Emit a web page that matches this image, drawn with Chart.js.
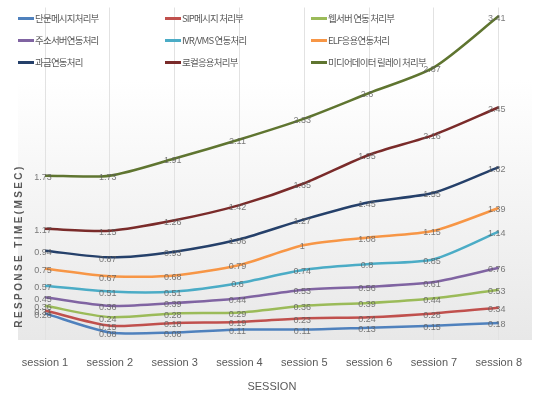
<!DOCTYPE html>
<html>
<head>
<meta charset="utf-8">
<script src="https://cdn.jsdelivr.net/npm/chart.js@4.4.0/dist/chart.umd.min.js"></script>
<style>
    html, body { margin: 0; padding: 0; background: #fff; }
    #wrap { position: relative; width: 538px; height: 395px; }
    #legend {
        position: absolute; left: 18px; top: 7px;
        display: grid; grid-template-columns: 147px 146px auto; grid-auto-rows: 22px;
        font-family: "Noto Sans CJK KR", sans-serif; font-size: 9.5px; color: #595959;
        letter-spacing: -0.8px;
    }
    .item { display: flex; align-items: center; white-space: nowrap; }
    .mark { width: 16px; height: 3px; margin-right: 1px; }
</style>
</head>
<body>
<div id="wrap">
    <canvas id="chart" width="538" height="395"></canvas>
    <div id="legend"></div>
</div>
<script>
const sessions = ['session 1', 'session 2', 'session 3', 'session 4', 'session 5', 'session 6', 'session 7', 'session 8'];

const seriesNames = ['단문메시지처리부', 'SIP메시지 처리부', '웹서버 연동 처리부',
    '주소서버연동처리', 'IVR/VMS 연동처리', 'ELF응용연동처리',
    '과금연동처리', '로컬응용처리부', '미디어데이터 릴레이 처리부'];

const shortMsg = [0.28, 0.08, 0.08, 0.11, 0.11, 0.13, 0.15, 0.18];
const sipMsg = [0.31, 0.15, 0.18, 0.19, 0.23, 0.24, 0.28, 0.34];
const webServer = [0.36, 0.24, 0.28, 0.29, 0.36, 0.39, 0.44, 0.53];
const addrServer = [0.45, 0.36, 0.39, 0.44, 0.53, 0.56, 0.61, 0.76];
const ivrVms = [0.57, 0.51, 0.51, 0.6, 0.74, 0.8, 0.85, 1.14];
const elfApp = [0.75, 0.67, 0.68, 0.79, 1.0, 1.08, 1.15, 1.39];
const billing = [0.94, 0.87, 0.93, 1.06, 1.27, 1.45, 1.55, 1.82];
const localApp = [1.17, 1.15, 1.26, 1.42, 1.65, 1.95, 2.16, 2.45];
const mediaRelay = [1.73, 1.73, 1.91, 2.11, 2.33, 2.6, 2.87, 3.41];

const seriesValues = [shortMsg, sipMsg, webServer, addrServer, ivrVms, elfApp, billing, localApp, mediaRelay];
const colors = ['#4f81bd', '#c0504d', '#9bbb59', '#8064a2', '#4bacc6', '#f79646', '#25406a', '#7a2b2a', '#5f7530'];

// legenda em grade de 3 colunas
const legend = document.getElementById('legend');
seriesNames.forEach((name, i) => {
    const item = document.createElement('div');
    item.className = 'item';
    item.innerHTML = '<span class="mark" style="background:' + colors[i] + '"></span><span>' + name + '</span>';
    legend.appendChild(item);
});

const bgPlugin = {
    id: 'bg',
    beforeDraw(chart) {
        const ctx = chart.ctx;
        const bottom = chart.chartArea.bottom;
        const g = ctx.createLinearGradient(0, 80, 0, bottom);
        g.addColorStop(0, '#ffffff');
        g.addColorStop(1, '#e8e8e8');
        ctx.save();
        ctx.fillStyle = g;
        ctx.fillRect(18, 80, 514, bottom - 80);
        ctx.restore();
    }
};

const labelsPlugin = {
    id: 'valueLabels',
    afterDatasetsDraw(chart) {
        const ctx = chart.ctx;
        ctx.save();
        ctx.font = '9px "Liberation Sans Narrow", sans-serif';
        ctx.fillStyle = 'rgba(90,90,90,0.8)';
        ctx.textAlign = 'center';
        ctx.textBaseline = 'middle';
        chart.data.datasets.forEach((ds, di) => {
            chart.getDatasetMeta(di).data.forEach((pt, i) => {
                ctx.fillText(String(ds.data[i]), pt.x - 2, pt.y + 2);
            });
        });
        ctx.restore();
    }
};

const yTitlePlugin = {
    id: 'yTitle',
    afterDraw(chart) {
        const ctx = chart.ctx;
        ctx.save();
        ctx.translate(19, 246);
        ctx.rotate(-Math.PI / 2);
        ctx.font = 'bold 10px "Liberation Sans", sans-serif';
        ctx.letterSpacing = '2.4px';
        ctx.fillStyle = '#595959';
        ctx.textAlign = 'center';
        ctx.textBaseline = 'middle';
        ctx.fillText('RESPONSE TIME(MSEC)', 0, 0);
        ctx.restore();
    }
};

const ctx = document.getElementById('chart').getContext('2d');
const chart = new Chart(ctx, {
    type: 'line',
    data: {
        labels: sessions,
        datasets: seriesValues.map((vals, i) => ({
            label: seriesNames[i],
            data: vals,
            borderColor: colors[i],
            backgroundColor: colors[i],
            borderWidth: 2.5,
            pointRadius: 0,
            tension: 0.25,
            fill: false
        }))
    },
    options: {
        responsive: false,
        animation: false,
        layout: { padding: { left: 45, right: 33, top: 7.5, bottom: 0 } },
        plugins: {
            legend: { display: false },
            tooltip: { enabled: false }
        },
        scales: {
            x: {
                offset: false,
                grid: { color: '#e2e2e2', drawTicks: false },
                border: { display: false },
                ticks: {
                    padding: 16,
                    color: '#595959',
                    font: { family: '"Liberation Sans Narrow", sans-serif', size: 11 },
                    maxRotation: 0
                },
                title: {
                    display: true,
                    text: 'SESSION',
                    color: '#595959',
                    font: { family: '"Liberation Sans Narrow", sans-serif', size: 11 },
                    padding: { top: 0, bottom: 1 }
                },
                afterFit(scale) { scale.height = 55; }
            },
            y: {
                display: false,
                min: 0,
                max: 3.5
            }
        }
    },
    plugins: [bgPlugin, labelsPlugin, yTitlePlugin]
});
</script>
</body>
</html>
